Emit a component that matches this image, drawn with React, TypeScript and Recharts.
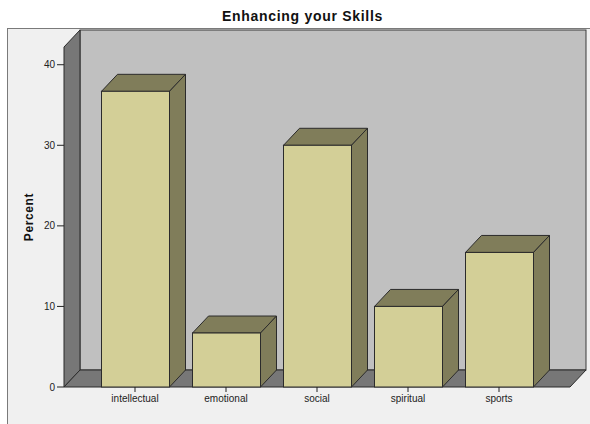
import React from 'react';
import { BarChart, Bar, XAxis, YAxis, ReferenceArea } from 'recharts';

const categories = ['intellectual', 'emotional', 'social', 'spiritual', 'sports'];
const percents = [36.7, 6.7, 30.0, 10.0, 16.7];
const yTicks = [0, 10, 20, 30, 40];
const yMax = 42.2;
const title = 'Enhancing your Skills';
const yLabel = 'Percent';

const data = categories.map((c, i) => ({ name: c, value: percents[i] }));

const DX = 16;
const DY = 17;
const PAD = 25.5;
const FRONT = '#d3cf97';
const SHADE = '#807d5a';
const EDGE = '#2b2b2b';
const FONT = 'Arial, "Liberation Sans", sans-serif';

function Bar3D(props: any) {
  const { x, y, width, height } = props;
  if (width == null || height == null) return null;
  const top = `${x},${y} ${x + DX},${y - DY} ${x + width + DX},${y - DY} ${x + width},${y}`;
  const side = `${x + width},${y} ${x + width + DX},${y - DY} ${x + width + DX},${y + height - DY} ${x + width},${y + height}`;
  return (
    <g>
      <polygon points={top} fill={SHADE} stroke={EDGE} strokeWidth={1} strokeLinejoin="round" />
      <polygon points={side} fill={SHADE} stroke={EDGE} strokeWidth={1} strokeLinejoin="round" />
      <rect x={x} y={y} width={width} height={height} fill={FRONT} stroke={EDGE} strokeWidth={1} />
    </g>
  );
}

function Walls(props: any) {
  const { x, y, width, height } = props;
  const l = x - PAD;
  const r = x + width + PAD;
  const t = y;
  const b = y + height;
  return (
    <g>
      <rect x={l + DX} y={t - DY} width={r - l} height={b - t} fill="#c0c0c0" stroke="#3a3a3a" strokeWidth={1} />
      <polygon
        points={`${l},${t} ${l + DX},${t - DY} ${l + DX},${b - DY} ${l},${b}`}
        fill="#777777"
        stroke="#2b2b2b"
        strokeWidth={1}
      />
      <polygon
        points={`${l},${b} ${r},${b} ${r + DX},${b - DY} ${l + DX},${b - DY}`}
        fill="#777777"
        stroke="#2b2b2b"
        strokeWidth={1}
      />
    </g>
  );
}

export default function App() {
  return (
    <div style={{ position: 'absolute', left: 0, top: 0, width: 590, height: 424, background: '#ffffff', overflow: 'hidden' }}>
      <div
        style={{
          position: 'absolute',
          left: 7,
          top: 28,
          width: 600,
          height: 420,
          background: '#f0f0f0',
          borderLeft: '1px solid #7a7a7a',
          borderTop: '1px solid #7a7a7a',
        }}
      />
      <div
        style={{
          position: 'absolute',
          left: 0,
          top: 8,
          width: 605,
          textAlign: 'center',
          fontFamily: FONT,
          fontWeight: 'bold',
          fontSize: 14,
          letterSpacing: 0.7,
          lineHeight: '16px',
          color: '#111',
        }}
      >
        {title}
      </div>
      <div style={{ position: 'absolute', left: 0, top: 0 }}>
        <BarChart
          width={590}
          height={424}
          data={data}
          margin={{ top: 47, right: 20, bottom: 7, left: 8 }}
          barSize={68}
        >
          <ReferenceArea y1={0} y2={yMax} ifOverflow="visible" shape={<Walls />} />
          <XAxis
            dataKey="name"
            padding={{ left: PAD, right: PAD }}
            axisLine={false}
            tickLine={{ stroke: '#222' }}
            tickSize={5}
            tickMargin={3}
            height={30}
            tick={{ fontSize: 10, fill: '#222', fontFamily: FONT }}
            interval={0}
          />
          <YAxis
            type="number"
            domain={[0, yMax]}
            ticks={yTicks}
            width={56}
            axisLine={false}
            tickLine={{ stroke: '#222' }}
            tickSize={7}
            tickMargin={2}
            tick={{ fontSize: 10, fill: '#222', fontFamily: FONT }}
            label={{
              value: yLabel,
              angle: -90,
              position: 'insideLeft',
              offset: 20.5,
              style: { fontSize: 12, fontWeight: 'bold', letterSpacing: 0.6, fill: '#111', fontFamily: FONT, textAnchor: 'middle' },
            }}
          />
          <Bar dataKey="value" shape={<Bar3D />} isAnimationActive={false} />
        </BarChart>
      </div>
    </div>
  );
}
